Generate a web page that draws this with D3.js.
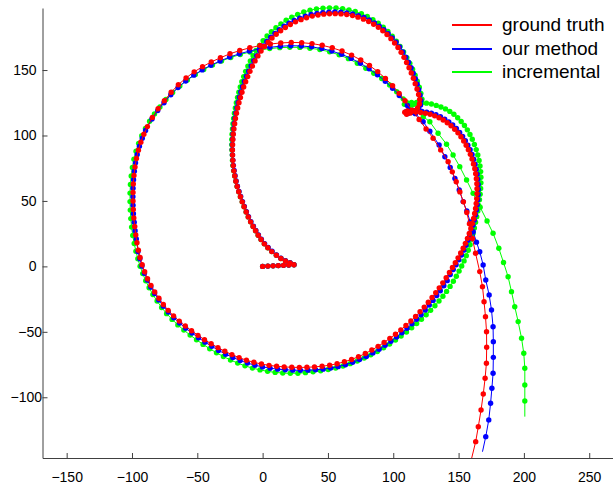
<!DOCTYPE html>
<html>
<head>
<meta charset="utf-8">
<script src="https://cdn.jsdelivr.net/npm/d3@7"></script>
<style>
    body { margin: 0; background: #fff; }
    svg { display: block; font-family: "Liberation Sans", Arial, sans-serif; }
</style>
</head>
<body>
<svg id="chart"></svg>
<script>
// trajectories, [x, y]
const groundTruth = [
    [0,0],[4,0.2],[8,0.4],[12,0.6],[16,0.8],[20,1],[24,1.2],[21,2.6],[17.5,4.2],[14,6],[10.5,8.5],[7,11.3],[4,14.2],[1.3,17.2],[-1.2,20.5],[-3.4,23.8],[-5.4,27.2],[-7.3,30.5],[-9.2,34],[-11,37.8],[-12.6,41.6],[-14.2,45.5],[-15.6,49.3],[-17,53.2],[-18.3,57],[-19.5,61],[-20.5,65],[-21.3,69],[-22,73],[-22.5,77],[-22.8,81],[-23,85],[-23.1,89],[-23,93],[-22.8,97],[-22.5,101],[-22,105],[-21.4,109],[-20.8,113],[-20,117],[-19.1,121],[-18.1,125],[-17,129],[-15.8,133],[-14.5,137],[-13,141],[-11.4,145],[-9.7,149],[-7.8,153],[-5.8,157],[-3.6,160.8],[-1.2,164.5],[1.4,168],[4.2,171.3],[7.2,174.4],[10.4,177.3],[13.8,180],[17.4,182.5],[21.2,184.8],[25.2,186.8],[29.4,188.5],[33.6,190],[38,191.2],[42.4,192.1],[46.8,192.7],[51.2,193],[55.6,193.1],[60,192.9],[64.4,192.4],[68.8,191.6],[73,190.4],[77.2,188.9],[81.2,187.1],[85,185],[88.6,182.6],[92,180],[95.2,177.1],[98.2,174],[101,170.7],[103.6,167.2],[106,163.5],[108.2,159.7],[110.2,155.8],[112.1,151.8],[113.8,147.8],[115.4,143.7],[116.8,139.6],[118.2,135.5],[119.4,131.4],[120.2,127.5],[120,124],[118.6,121],[116,118.8],[113,117.2],[110.2,116.2],[108.8,117.8],[110.8,118.8],[114,118.5],[117.5,118],[121,117.6],[124.6,117],[128.2,116.2],[131.7,115],[135,113.6],[138.2,111.8],[141.3,109.7],[144.2,107.4],[147,104.8],[149.5,102],[151.8,99],[153.9,95.8],[155.8,92.5],[157.5,89.1],[159,85.6],[160.3,82],[161.4,78.3],[162.4,74.6],[163.1,70.8],[163.6,67],[164,63.2],[164.1,59.4],[164.1,55.6],[163.9,51.8],[163.5,48],[163,44.2],[162.3,40.4],[161.5,36.6],[160.5,32.8],[159.4,29],[158.2,25.2],[156.8,21.4],[155.2,17.6],[153.5,13.9],[151.6,10.2],[149.6,6.5],[147.5,2.8],[145.3,-0.9],[143,-4.7],
    [140.5,-8.7],[137.9,-12.6],[135.2,-16.4],[132.5,-20.1],[129.7,-23.8],[126.8,-27.4],[123.7,-31.1],[120.5,-34.7],[117.1,-38.2],[113.5,-41.7],[109.7,-45.1],[105.8,-48.5],[101.7,-51.8],[97.4,-55],[93,-58.1],[88.4,-61.1],[83.6,-63.9],[78.6,-66.6],[73.4,-69],[68.1,-71.1],[62.6,-72.9],[57,-74.4],[51.3,-75.5],[45.5,-76.3],[39.7,-76.8],[33.9,-77.1],[28.1,-77.2],[22.3,-77.1],[16.5,-76.8],[10.7,-76.3],[4.9,-75.6],[-0.9,-74.6],[-6.7,-73.3],[-12.4,-71.7],[-18,-69.7],[-23.5,-67.4],[-28.9,-64.9],[-34.2,-62.1],[-39.4,-59.1],[-44.5,-56],[-49.5,-52.7],[-54.4,-49.2],[-59.2,-45.6],[-63.8,-41.8],[-68.2,-37.8],[-72.3,-33.6],[-76,-29.1],[-79.4,-24.4],[-82.6,-19.5],[-85.5,-14.5],[-88.1,-9.4],[-90.3,-4.1],[-92.2,1.3],[-93.8,6.8],[-95.1,12.4],[-96.2,18.1],[-97.1,24],[-97.9,30.5],[-98.6,37],[-99,43.5],[-99.2,50],[-99.2,56.5],[-99,63],[-98.5,69.5],[-97.7,76],[-96.6,82.4],[-95.1,88.7],[-93.2,94.9],[-90.9,100.9],
    [-88.2,106.8],[-84.4,113.8],[-80,120.4],[-75.2,126.6],[-70,133],[-64.5,138.8],[-58.6,144],[-52.4,148.6],[-46,152.6],[-39.3,156.2],[-32.3,159.4],[-25,162.4],[-17.5,164.9],[-9.8,167],[-2,168.7],[5.9,169.9],[13.9,170.7],[21.9,171.1],[29.9,170.9],[37.8,170.2],[45.6,168.9],[53.3,167],[60.8,164.5],[68.1,161.4],[75.1,157.7],[81.8,153.5],[88.1,148.8],[94,143.6],[99.5,138],[104.5,132.2],[109,126.5],
    [114.4,119.4],[119.8,112.2],[125.1,105],[130.5,97.9],[136.3,89],[142,80],[145.2,72.2],[148.2,64.6],[151,56.9],[153.7,49.3],[156.3,41.2],[158.3,32.5],[160.6,21.3],[163,10],
    [166.2,-4],[168.3,-15.5],[169.5,-27],[170.6,-38.4],[171.4,-49.9],[171.5,-61.8],[171.3,-74],[170.3,-85.5],[168.9,-97.5],[167.2,-109.7],[165.1,-122.5],[163.1,-133.9],[160,-146.6]
];

const ourMethod = [
    [0,0],[4,0.2],[8,0.4],[12,0.6],[16,0.8],[20,1.1],[24,1.3],[21,2.8],[17.5,4.4],[14,6.2],[10.6,8.7],[7.2,11.5],[4.2,14.4],[1.5,17.4],[-1,20.7],[-3.2,24],[-5.2,27.4],[-7.1,30.7],[-9,34.2],[-10.8,38],[-12.4,41.8],[-14,45.7],[-15.4,49.5],[-16.8,53.4],[-18.1,57.2],[-19.3,61.2],[-20.3,65.2],[-21.1,69.2],[-21.8,73.2],[-22.4,77.2],[-22.8,81.2],[-23.1,85.2],[-23.2,89.2],[-23.2,93.2],[-23,97.2],[-22.7,101.2],[-22.3,105.2],[-21.8,109.2],[-21.2,113.2],[-20.5,117.2],[-19.7,121.2],[-18.8,125.2],[-17.8,129.2],[-16.7,133.2],[-15.4,137.2],[-14,141.2],[-12.4,145.2],[-10.7,149.2],[-8.8,153.2],[-6.8,157.2],[-4.6,161],[-2.2,164.8],[0.4,168.4],[3.2,171.8],[6.2,175],[9.4,178],[12.8,180.8],[16.4,183.4],[20.2,185.8],[24.2,187.9],[28.4,189.7],[32.7,191.2],[37.1,192.4],[41.6,193.3],[46.1,193.9],[50.7,194.2],[55.3,194.3],[59.9,194.1],[64.4,193.6],[68.9,192.8],[73.3,191.6],[77.6,190.1],[81.7,188.2],[85.6,186],[89.3,183.5],[92.8,180.8],[96.1,177.8],[99.2,174.6],[102.1,171.2],[104.8,167.6],[107.3,163.8],[109.6,159.9],[111.7,155.9],[113.6,151.8],[115.3,147.6],[116.9,143.4],[118.3,139.2],[119.5,135],[120.5,130.8],[121.1,126.8],[120.9,123.3],[119.5,120.6],[117,118.8],[114,117.6],[111.2,116.8],[109.8,118.2],[111.8,119.3],[115,119.2],[118.5,118.8],[122,118.4],[125.6,117.8],[129.2,117],[132.7,115.8],[136.1,114.3],[139.4,112.5],[142.5,110.4],[145.5,108],[148.3,105.3],[150.8,102.4],[153.1,99.3],[155.2,96],[157.1,92.6],[158.8,89.1],[160.3,85.5],[161.5,81.8],[162.6,78],[163.5,74.2],[164.2,70.4],[164.7,66.5],[165,62.6],[165.1,58.7],[165,54.8],[164.7,50.9],[164.3,47],[163.7,43.1],[162.9,39.2],[162,35.3],[161,31.4],[159.8,27.5],[158.6,23.7],[157.2,19.9],[155.7,16.1],[154,12.4],[152.2,8.7],[150.2,5],[148.1,1.3],[145.9,-2.4],[143.6,-6.2],
    [141.3,-10.9],[138.7,-14.8],[136,-18.6],[133.3,-22.3],[130.5,-26],[127.6,-29.6],[124.5,-33.3],[121.3,-36.9],[117.9,-40.4],[114.3,-43.9],[110.5,-47.3],[106.6,-50.7],[102.5,-54],[98.2,-57.2],[93.8,-60.3],[89.2,-63.3],[84.4,-66.1],[79.4,-68.8],[74.2,-71.2],[68.9,-73.3],[63.4,-75.1],[57.8,-76.6],[52.1,-77.7],[46.3,-78.5],[40.5,-79],[34.7,-79.3],[28.9,-79.4],[23.1,-79.3],[17.3,-79],[11.5,-78.5],[5.7,-77.8],[-0.1,-76.8],[-5.9,-75.5],[-11.6,-73.9],[-17.2,-71.9],[-22.8,-69.6],[-28.3,-67.1],[-33.7,-64.2],[-38.9,-61.1],[-44.1,-57.9],[-49.1,-54.5],[-54.1,-50.9],[-58.9,-47.2],[-63.6,-43.3],[-68,-39.2],[-72.2,-34.9],[-76,-30.4],[-79.5,-25.6],[-82.7,-20.7],[-85.6,-15.7],[-88.2,-10.5],[-90.5,-5.2],[-92.4,0.3],[-94,5.8],[-95.4,11.4],[-96.7,21],[-97.6,27.2],[-98.3,33.7],[-98.9,40.2],[-99.2,46.7],[-99.3,53.2],[-99.2,59.7],[-98.8,66.2],[-98.2,72.7],[-97.3,79.1],[-96,85.5],[-94.3,91.8],[-92.1,97.9],[-89.6,103.8],
    [-84.7,112.6],[-80.3,119],[-75.5,125],[-70.3,131.1],[-64.8,136.6],[-58.9,141.6],[-52.7,146.1],[-46.3,150.1],[-39.6,153.7],[-32.6,156.9],[-25.3,159.9],[-17.8,162.4],[-10.1,164.5],[-2.3,166.2],[5.6,167.4],[13.6,168.2],[21.6,168.6],[29.6,168.4],[37.5,167.7],[45.3,166.4],[53,164.5],[60.5,162],[67.8,158.9],[74.8,155.2],[81.5,151],[87.9,146.4],[93.9,141.4],[99.5,136],[104.6,130.6],
    [110.8,123],[116.9,116.7],[122.9,110.5],[128,103.2],[135.1,92.7],[139.5,83.8],[143.6,75.6],[147.2,67.1],[150.5,58.3],[153.5,49.5],[156.3,42.3],[158.9,34],[161.2,26.4],[163.7,18.5],[166.2,11.2],[168.8,1.1],
    [170.8,-10.4],[173.4,-21.8],[175.2,-33.3],[176.4,-46.1],[176.6,-57.5],[176.6,-69.5],[176.4,-81.7],[175.5,-93.1],[174.5,-104.6],[173.1,-117.3],[170.8,-130.1],[168.3,-141.6]
];

const incremental = [
    [0,0],[4,0.2],[8,0.4],[12,0.6],[16,0.8],[20,1],[24,1.2],[21,2.6],[17.5,4.2],[14,6],[10.5,8.5],[7,11.3],[4,14.2],[1.3,17.2],[-1.2,20.5],[-3.4,23.8],[-5.4,27.2],[-7.3,30.5],[-9.2,34],[-11,37.8],[-12.6,41.6],[-14.2,45.5],[-15.6,49.3],[-17,53.2],[-18.3,57],[-19.5,61],[-20.5,65],[-21.4,69],[-22.2,73],[-22.8,77],[-23.1,81],[-23.2,85],[-23.5,89],[-23.6,93],[-23.6,97],[-23.4,101],[-23.1,105],[-22.7,109],[-22.2,113],[-21.6,117],[-20.9,121],[-20.1,125],[-19.2,129],[-18.2,133],[-17.1,137],[-15.9,141],[-14.5,145],[-13,149],[-11.3,153],[-9.4,157],[-7.3,161],[-5,165],[-2.4,168.8],[0.4,172.5],[3.4,176],[6.7,179.3],[10.2,182.4],[14,185.3],[18,188],[22.3,190.4],[26.8,192.5],[31.5,194.3],[36.3,195.7],[41.2,196.7],[46.2,197.3],[51.2,197.5],[56.2,197.4],[61.2,196.9],[66.1,196],[70.9,194.7],[75.6,193],[80.1,190.9],[84.4,188.5],[88.5,185.8],[92.3,182.7],[95.9,179.4],[99.2,175.8],[102.3,172],[105.2,168],[107.9,163.8],[110.4,159.5],[112.7,155.1],[114.8,150.6],[116.7,146],[118.4,141.4],[119.9,136.8],[121.1,132.2],[122,127.8],[121.4,124.8],[118.5,123.8],[115,123.4],[111.5,123.4],[108.5,123.8],[110.5,125],[114,125.3],[117.8,125.3],[121.6,125.1],[125.4,124.7],[129.2,124],[132.9,123],[136.5,121.8],[140,120.3],[143.3,118.4],[146.4,116.2],[149.3,113.6],[152,110.7],[154.5,107.6],[156.7,104.3],[158.7,100.8],[160.5,97.1],[162.1,93.2],[163.5,89.2],[164.7,85.1],[165.7,80.9],[166.4,76.7],[166.9,72.4],[167.1,68.1],[167.1,63.8],[166.9,59.5],[166.5,55.2],[166,50.9],[165.4,46.6],[164.7,42.3],[163.9,38],[163,33.7],[162.1,29.4],[161.1,25.1],[160,20.8],[158.8,16.5],[157.4,12.3],[155.9,8.2],[154.2,4.2],[152.4,0.3],[150.4,-3.6],
    [148.3,-7.5],[146,-11.4],[143.5,-15.3],[140.8,-19.1],[138,-22.8],[135,-26.5],[131.9,-30.1],[128.6,-33.6],[125.2,-37],[121.6,-40.4],[117.9,-43.7],[114.1,-46.9],[110.1,-50.1],[106,-53.2],[101.7,-56.3],[97.2,-59.3],[92.6,-62.2],[87.8,-65],[82.8,-67.6],[77.7,-70],[72.4,-72.3],[67,-74.3],[61.5,-76.1],[55.9,-77.6],[50.2,-78.8],[44.4,-79.8],[38.6,-80.6],[32.8,-81.2],[27,-81.6],[21.2,-81.7],[15.4,-81.5],[9.6,-81],[3.8,-80.2],[-2,-79.1],[-7.8,-77.7],[-13.5,-76],[-19.1,-73.9],[-24.6,-71.5],[-30,-68.9],[-35.3,-66],[-40.5,-62.9],[-45.6,-59.6],[-50.6,-56.1],[-55.5,-52.5],[-60.3,-48.7],[-64.9,-44.7],[-69.3,-40.5],[-73.5,-36.1],[-77.3,-31.4],[-80.8,-26.5],[-84,-21.5],[-86.9,-16.3],[-89.5,-11],[-91.8,-5.5],[-93.8,0.1],[-95.5,5.8],[-97,11.6],[-98.3,17.5],[-99.4,23.6],[-100.3,30],[-100.9,36.5],[-101.3,43],[-101.5,49.5],[-101.5,56],[-101.2,62.5],[-100.6,69],[-99.7,75.5],[-98.5,81.8],[-96.9,88],[-94.9,94],[-92.5,99.8],[-89.7,105.4],[-86.5,110.9],[-82.8,116.5],
    [-78.6,121.8],[-74,127.5],[-68.9,132.8],[-63.4,137.8],[-57.6,142.4],[-51.5,146.6],[-45.1,150.4],[-38.4,153.8],[-31.5,156.9],[-24.4,159.6],[-17.1,161.9],[-9.7,163.8],[-2.2,165.3],[5.4,166.4],[13.1,167.1],[20.8,167.4],[28.5,167.3],[36.2,166.7],[43.8,165.6],[51.3,163.9],[58.6,161.6],[65.7,158.7],[72.5,155.2],[79,151.4],[85.1,147.6],[91.2,143.5],[97.2,138.6],[102.6,133.5],[107.6,128],[112.4,123],[117.8,118.4],[123,114.4],[128,110.5],
    [134.3,101.7],[140.8,93.3],[145.8,85.1],[150.9,76.2],[156.1,66],[161.1,55.8],[166.5,45.2],[171.8,34.7],[176.4,25.3],[180.8,13.8],[184.4,3],
    [187.9,-7.9],[190.5,-19.3],[193,-30.8],[195.6,-42.2],[198.2,-54.9],[199.9,-66.4],[200.7,-77.8],[200.7,-90.6],[200.7,-102.8],[200.7,-114.8]
];

const seriesNames = ['ground truth', 'our method', 'incremental'];
const seriesColors = ['#ff0000', '#0000ff', '#00ff00'];
const xTicks = [-150, -100, -50, 0, 50, 100, 150, 200, 250];
const yTicks = [-100, -50, 0, 50, 100, 150];
const xDomain = [-168.5, 270.5];
const yDomain = [-146.4, 197.4];

class TrajectoryChart {

    constructor( config, data ){
        this.config = {
            parent: config.parent,
            width: config.width || 613,
            height: config.height || 485,
            margin: config.margin || {top:8, right:-3, bottom:27, left:42.5},
            radius: config.radius || 2.7
        }
        this.data = data;
        this.init();
    }

    init(){
        let self = this;

        self.svg = d3.select( self.config.parent )
            .attr('width', self.config.width)
            .attr('height', self.config.height);

        self.chart = self.svg.append('g')
            .attr('transform', `translate(${self.config.margin.left}, ${self.config.margin.top})`);

        self.inner_width = self.config.width - self.config.margin.left - self.config.margin.right;
        self.inner_height = self.config.height - self.config.margin.top - self.config.margin.bottom;

        self.xscale = d3.scaleLinear()
            .domain( xDomain )
            .range( [0, self.inner_width] );

        self.yscale = d3.scaleLinear()
            .domain( yDomain )
            .range( [self.inner_height, 0] );

        self.xaxis = d3.axisBottom( self.xscale )
            .tickValues( xTicks )
            .tickSizeInner(-5)
            .tickSizeOuter(0)
            .tickPadding(14);

        self.yaxis = d3.axisLeft( self.yscale )
            .tickValues( yTicks )
            .tickSizeInner(-5)
            .tickSizeOuter(0)
            .tickPadding(6);

        self.plot = self.chart.append('g');

        self.xaxis_group = self.chart.append('g')
            .attr('transform', `translate(0, ${self.inner_height})`);

        self.yaxis_group = self.chart.append('g');

        self.legend = self.svg.append('g');
    }

    render(){
        let self = this;

        const line = d3.line()
            .x( d => self.xscale(d[0]) )
            .y( d => self.yscale(d[1]) );

        // drawn back to front: incremental, our method, ground truth
        const order = [2, 1, 0];
        order.forEach( i => {
            const s = self.data[i];
            const g = self.plot.append('g');

            g.append('path')
                .attr('d', line(s.points))
                .attr('fill', 'none')
                .attr('stroke', s.color)
                .attr('stroke-width', 1);

            // the plotted line runs a little past the last marker
            g.selectAll('circle')
                .data(s.points.slice(0, -1))
                .join('circle')
                .attr('cx', d => self.xscale(d[0]))
                .attr('cy', d => self.yscale(d[1]))
                .attr('r', self.config.radius)
                .attr('fill', s.color);
        });

        self.xaxis_group.call( self.xaxis );
        self.yaxis_group.call( self.yaxis );

        [self.xaxis_group, self.yaxis_group].forEach( g => {
            g.select('.domain').attr('stroke', '#404040');
            g.selectAll('.tick line').attr('stroke', '#404040');
            g.selectAll('.tick text')
                .attr('fill', '#000')
                .style('font-size', '14px')
                .style('font-family', '"Liberation Sans", Arial, sans-serif');
        });

        // labels with a minus sign sit closer to the axis
        self.yaxis_group.selectAll('.tick text')
            .filter( d => d < 0 )
            .attr('x', -0.5);

        const lx = 452, lw = 40;
        const ly = [25, 49, 72];
        self.data.forEach( (s, i) => {
            self.legend.append('line')
                .attr('x1', lx)
                .attr('x2', lx + lw)
                .attr('y1', ly[i])
                .attr('y2', ly[i])
                .attr('stroke', s.color)
                .attr('stroke-width', 2);

            self.legend.append('text')
                .attr('x', lx + lw + 10)
                .attr('y', ly[i] + 6)
                .style('font-size', '19px')
                .attr('fill', '#000')
                .text( s.name );
        });
    }
}

const data = [groundTruth, ourMethod, incremental].map( (points, i) => ({
    name: seriesNames[i],
    color: seriesColors[i],
    points: points
}));

const chart = new TrajectoryChart({ parent: '#chart' }, data);
chart.render();
</script>
</body>
</html>
